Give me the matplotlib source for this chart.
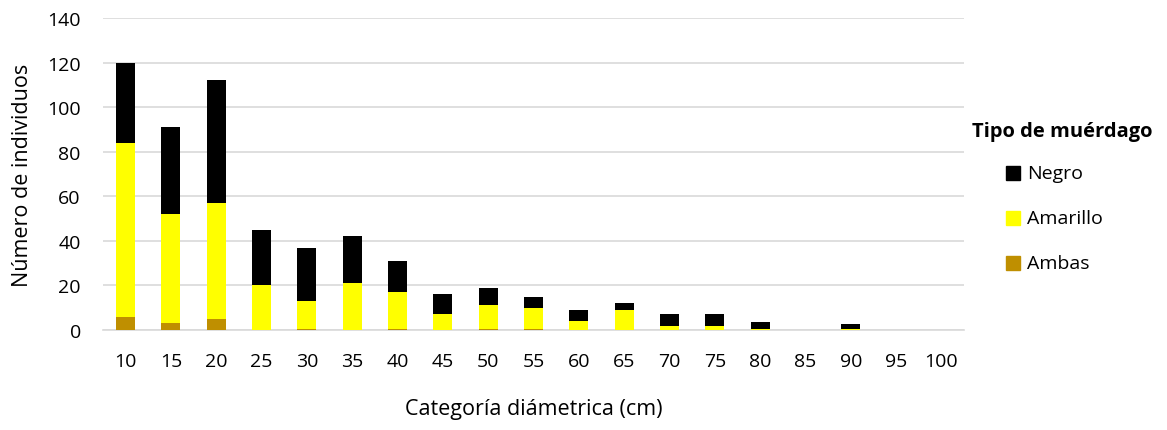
import matplotlib.pyplot as plt
from matplotlib.patches import Rectangle

plt.rcParams['font.family'] = ['Open Sans', 'DejaVu Sans']

categorias = [10, 15, 20, 25, 30, 35, 40, 45, 50, 55, 60, 65, 70, 75, 80, 85, 90, 95, 100]
ambas = [6, 3, 5, 0, 0.5, 0, 0.5, 0, 0.5, 0.5, 0, 0, 0, 0, 0, 0, 0, 0, 0]
amarillo = [78, 49, 52, 20, 12.5, 21, 16.5, 7, 10.5, 9.5, 4, 9, 2, 2, 0.5, 0, 0.5, 0, 0]
negro = [36, 39, 55, 25, 24, 21, 14, 9, 8, 5, 5, 3, 5, 5, 3, 0, 2, 0, 0]

series = ['Negro', 'Amarillo', 'Ambas']
colores = {'Negro': '#000000', 'Amarillo': '#FFFF00', 'Ambas': '#BF8F00'}

W, H = 1167, 431
fig = plt.figure(figsize=(W / 100, H / 100), dpi=100)
ax = fig.add_axes([103 / W, 1 - 331 / H, 861 / W, 312 / H])

x = list(range(len(categorias)))
base2 = [a + b for a, b in zip(ambas, amarillo)]
ax.bar(x, ambas, width=0.42, color=colores['Ambas'], zorder=3)
ax.bar(x, amarillo, width=0.42, bottom=ambas, color=colores['Amarillo'], zorder=3)
ax.bar(x, negro, width=0.42, bottom=base2, color=colores['Negro'], zorder=3)

ax.set_xlim(-0.5, len(categorias) - 0.5)
ax.set_ylim(0, 140)
ax.set_yticks(range(0, 141, 20))
ax.set_xticks(x)
ax.set_xticklabels([str(c) for c in categorias])
ax.tick_params(axis='both', length=0, labelsize=14, colors='#000000')
ax.tick_params(axis='x', pad=16)
ax.tick_params(axis='y', pad=16)
ax.grid(axis='y', color='#D9D9D9', linewidth=1.2, zorder=0)
for s in ['top', 'right', 'left']:
    ax.spines[s].set_visible(False)
ax.spines['bottom'].set_color('#D9D9D9')
ax.spines['bottom'].set_linewidth(1.2)

ax.set_xlabel('Categoría diámetrica (cm)', fontsize=15.5, labelpad=20)
ax.set_ylabel('Número de individuos', fontsize=15.5, labelpad=10)

# leyenda a mano, como la de Excel
fig.text(972 / W, 1 - 132 / H, 'Tipo de muérdago', fontsize=14.5,
         fontweight='bold', ha='left', va='center')
for i, nombre in enumerate(series):
    yc = 174 + 45 * i
    fig.patches.append(Rectangle((1006 / W, 1 - (yc + 7) / H), 14 / W, 14 / H,
                                 transform=fig.transFigure, color=colores[nombre]))
    fig.text(1027 / W, 1 - yc / H, nombre, fontsize=14, ha='left', va='center')

fig.savefig('out.png', dpi=100)
